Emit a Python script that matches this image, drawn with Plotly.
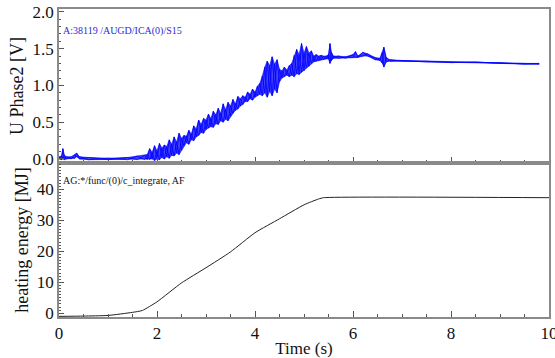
import plotly.graph_objects as go

# ---- data (upper / lower extremes of the noisy trace) ----
t_sig = [0.0, 0.05, 0.08, 0.11, 0.15, 0.25, 0.32, 0.36, 0.42, 0.6, 1.0, 1.4, 1.6, 1.75,
         1.80, 1.85, 1.90, 1.95, 2.00, 2.05, 2.10, 2.15, 2.20, 2.25, 2.30, 2.35, 2.40, 2.45,
         2.50, 2.55, 2.60, 2.65, 2.70, 2.75, 2.80, 2.85, 2.90, 2.95, 3.00, 3.05, 3.10, 3.15,
         3.20, 3.25, 3.30, 3.35, 3.40, 3.45, 3.50, 3.55, 3.60, 3.65, 3.70, 3.75, 3.80, 3.85,
         3.90, 3.95, 4.00, 4.05, 4.10, 4.15, 4.20, 4.25, 4.30, 4.35, 4.40, 4.45, 4.50, 4.55,
         4.60, 4.65, 4.70, 4.75, 4.80, 4.85, 4.90, 4.95, 5.00, 5.05, 5.10, 5.15, 5.20, 5.25,
         5.30, 5.35, 5.40, 5.45, 5.50, 5.53, 5.56, 5.60,
         5.7, 5.85, 6.0, 6.05, 6.1, 6.2, 6.3, 6.45, 6.55, 6.6, 6.63, 6.68, 6.75,
         7.0, 7.5, 8.0, 8.5, 9.0, 9.5, 9.8]
u_upper = [0.03, 0.04, 0.14, 0.05, 0.03, 0.03, 0.06, 0.08, 0.03, 0.02, 0.01, 0.02, 0.04, 0.05,
           0.06, 0.14, 0.09, 0.18, 0.11, 0.21, 0.15, 0.19, 0.17, 0.26, 0.20, 0.30, 0.23, 0.35,
           0.28, 0.32, 0.31, 0.39, 0.34, 0.45, 0.41, 0.53, 0.47, 0.55, 0.53, 0.61, 0.55, 0.65,
           0.60, 0.69, 0.62, 0.75, 0.67, 0.77, 0.72, 0.81, 0.75, 0.85, 0.82, 0.86, 0.84, 0.91,
           0.88, 0.95, 0.91, 0.99, 1.03, 1.13, 1.25, 1.33, 1.27, 1.39, 1.29, 1.35, 1.22, 1.20,
           1.25, 1.21, 1.27, 1.30, 1.41, 1.49, 1.42, 1.57, 1.44, 1.53, 1.44, 1.47, 1.40, 1.42,
           1.40, 1.41, 1.40, 1.40, 1.42, 1.57, 1.45, 1.40,
           1.40, 1.39, 1.42, 1.46, 1.40, 1.45, 1.43, 1.38, 1.37, 1.45, 1.52, 1.38, 1.35,
           1.34, 1.33, 1.32, 1.32, 1.31, 1.30, 1.30]
u_lower = [0.00, -0.01, 0.00, -0.01, 0.00, 0.00, 0.01, 0.03, 0.00, -0.01, -0.01, -0.01, -0.01, -0.01,
           -0.01, -0.01, 0.00, -0.02, 0.00, -0.01, 0.02, 0.00, 0.03, 0.01, 0.05, 0.04, 0.08, 0.06,
           0.12, 0.18, 0.22, 0.20, 0.26, 0.25, 0.30, 0.32, 0.36, 0.35, 0.40, 0.42, 0.44, 0.43,
           0.48, 0.47, 0.52, 0.50, 0.54, 0.52, 0.58, 0.62, 0.66, 0.68, 0.72, 0.74, 0.78, 0.78,
           0.82, 0.80, 0.84, 0.86, 0.88, 0.86, 0.90, 0.84, 0.92, 0.86, 0.95, 0.90, 1.05, 1.10,
           1.12, 1.14, 1.12, 1.14, 1.12, 1.16, 1.15, 1.18, 1.20, 1.24, 1.26, 1.30, 1.32, 1.33,
           1.34, 1.35, 1.35, 1.36, 1.36, 1.30, 1.34, 1.37,
           1.37, 1.37, 1.38, 1.38, 1.38, 1.40, 1.40, 1.35, 1.34, 1.30, 1.25, 1.32, 1.33,
           1.33, 1.32, 1.31, 1.31, 1.30, 1.29, 1.29]

t_energy = [0.0, 0.5, 1.0, 1.5, 1.7, 2.0, 2.5, 3.0, 3.5, 4.0, 4.5, 5.0, 5.3, 5.4, 10.0]
energy = [-1.0, -0.9, -0.7, 0.3, 0.9, 3.7, 9.8, 14.7, 19.8, 26.0, 30.5, 35.0, 36.9, 37.3, 37.3]

label_top = "A:38119 /AUGD/ICA(0)/S15"
label_bottom = "AG:*/func/(0)/c_integrate, AF"

FONT = "Liberation Serif"
AX = "#8a8a8a"
BLUE = "#0000ff"

# zig-zag through the read envelope points (alternating upper/lower readings)
zig_y = [u_upper[i] if i % 2 == 0 else u_lower[i] for i in range(len(t_sig))]
zag_y = [u_lower[i] if i % 2 == 0 else u_upper[i] for i in range(len(t_sig))]

fig = go.Figure()
fig.add_trace(go.Scatter(x=t_sig, y=u_lower, mode="lines", line=dict(color=BLUE, width=0.6),
                         xaxis="x", yaxis="y", showlegend=False, hoverinfo="skip"))
fig.add_trace(go.Scatter(x=t_sig, y=u_upper, mode="lines", line=dict(color=BLUE, width=0.6),
                         fill="tonexty", fillcolor="rgba(20,20,255,0.8)",
                         xaxis="x", yaxis="y", showlegend=False, hoverinfo="skip"))
fig.add_trace(go.Scatter(x=t_sig, y=zig_y, mode="lines", line=dict(color=BLUE, width=0.8),
                         xaxis="x", yaxis="y", showlegend=False, hoverinfo="skip"))
fig.add_trace(go.Scatter(x=t_sig, y=zag_y, mode="lines", line=dict(color=BLUE, width=0.8),
                         xaxis="x", yaxis="y", showlegend=False, hoverinfo="skip"))
fig.add_trace(go.Scatter(x=t_energy, y=energy, mode="lines",
                         line=dict(color="#222222", width=1, shape="spline", smoothing=0.5),
                         xaxis="x2", yaxis="y2", showlegend=False))

common_x = dict(range=[0, 10], showline=True, linecolor=AX, linewidth=1.5, mirror=True,
                ticks="inside", ticklen=6, tickcolor="#555", dtick=2, tick0=0,
                showgrid=False, zeroline=False, automargin=False, ticklabeloverflow="allow",
                minor=dict(ticks="inside", ticklen=3, dtick=0.5, tickcolor="#555"))
fig.update_layout(
    width=555, height=358,
    margin=dict(l=59, r=6, t=9, b=41),
    paper_bgcolor="white", plot_bgcolor="white",
    font=dict(family=FONT, color="#111", size=16),
    xaxis=dict(common_x, anchor="y", showticklabels=False),
    xaxis2=dict(common_x, anchor="y2", matches="x",
                title=dict(text="Time (s)", font=dict(size=17), standoff=1),
                tickfont=dict(size=17)),
    yaxis=dict(domain=[0.5, 1.0], range=[-0.055, 2.04], anchor="x", automargin=False,
               showline=True, linecolor=AX, linewidth=1.5, mirror=True,
               ticks="inside", ticklen=5, tickcolor="#555", dtick=0.5, tickformat=".1f",
               minor=dict(ticks="inside", ticklen=2.5, dtick=0.1, tickcolor="#555"),
               showgrid=False, zeroline=False, tickfont=dict(size=17),
               title=dict(text="U Phase2 [V]", font=dict(size=18), standoff=4)),
    yaxis2=dict(domain=[0.0, 0.5], range=[-1.2, 48.5], anchor="x2", automargin=False,
                showline=True, linecolor=AX, linewidth=1.5, mirror=True,
                ticks="inside", ticklen=5, tickcolor="#555", dtick=10, tick0=0,
                minor=dict(ticks="inside", ticklen=2.5, dtick=1, tickcolor="#555"),
                showgrid=False, zeroline=False, tickfont=dict(size=17),
                title=dict(text="heating energy [MJ]", font=dict(size=18), standoff=4)),
    annotations=[
        dict(text=label_top, x=0.005, y=0.953, xref="paper", yref="paper",
             xanchor="left", yanchor="top", showarrow=False,
             font=dict(family=FONT, size=10, color="#2a2ad8")),
        dict(text=label_bottom, x=0.005, y=0.468, xref="paper", yref="paper",
             xanchor="left", yanchor="top", showarrow=False,
             font=dict(family=FONT, size=10, color="#111")),
    ],
)

fig.write_html("out.html", config={"displayModeBar": False},
               post_script="document.body.style.margin='0px';document.body.style.padding='0px';")
